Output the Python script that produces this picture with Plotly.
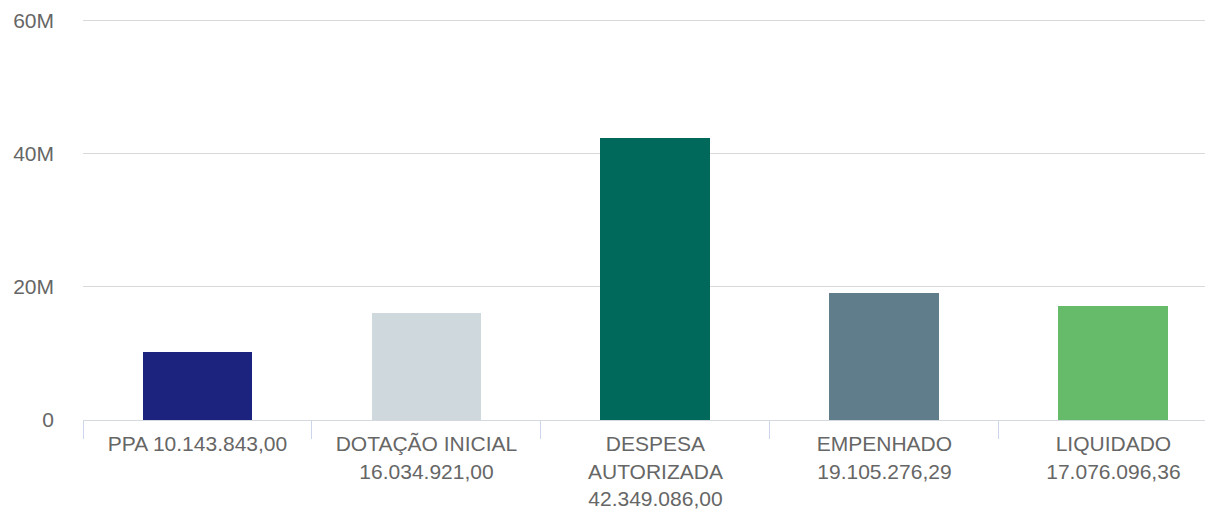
import plotly.graph_objects as go

categories = ["PPA", "DOTAÇÃO INICIAL", "DESPESA AUTORIZADA", "EMPENHADO", "LIQUIDADO"]
values = [10143843.00, 16034921.00, 42349086.00, 19105276.29, 17076096.36]
tick_labels = [
    "PPA 10.143.843,00",
    "DOTAÇÃO INICIAL<br>16.034.921,00",
    "DESPESA<br>AUTORIZADA<br>42.349.086,00",
    "EMPENHADO<br>19.105.276,29",
    "LIQUIDADO<br>17.076.096,36",
]
colors = ["#1b237e", "#cfd8dc", "#00695c", "#607d8b", "#66bb6a"]
y_tickvals = [0, 20e6, 40e6, 60e6]
y_ticktext = ["0", "20M", "40M", "60M"]

font = "Liberation Sans, Arial, sans-serif"

fig = go.Figure(
    go.Bar(
        x=categories,
        y=values,
        marker=dict(color=colors, line=dict(width=0)),
        width=0.48,
    )
)

# page body has an 8px margin, so the figure is sized/positioned to compensate
fig.update_layout(
    width=1205,
    height=505,
    margin=dict(l=75, r=0, t=11, b=93, autoexpand=False),
    paper_bgcolor="white",
    plot_bgcolor="white",
    showlegend=False,
    font=dict(family=font, size=21, color="#666666"),
    bargap=0,
)

fig.update_xaxes(
    type="category",
    tickmode="array",
    tickvals=categories,
    ticktext=tick_labels,
    range=[-0.5, 4.435],
    tickson="boundaries",
    ticks="outside",
    ticklen=18,
    tickwidth=1,
    tickcolor="#ccd6eb",
    showline=True,
    linecolor="#d6d9df",
    linewidth=1,
    showgrid=False,
    zeroline=False,
    automargin=False,
    ticklabelstandoff=5,
    tickfont=dict(size=21, color="#666666"),
)

fig.update_yaxes(
    range=[0, 60.2e6],
    tickmode="array",
    tickvals=y_tickvals,
    ticktext=y_ticktext,
    showgrid=True,
    gridcolor="#d9d9d9",
    gridwidth=1,
    zeroline=False,
    showline=False,
    ticks="",
    ticklabelstandoff=28,
    automargin=False,
    tickfont=dict(size=21, color="#666666"),
)

fig.write_html("out.html")
